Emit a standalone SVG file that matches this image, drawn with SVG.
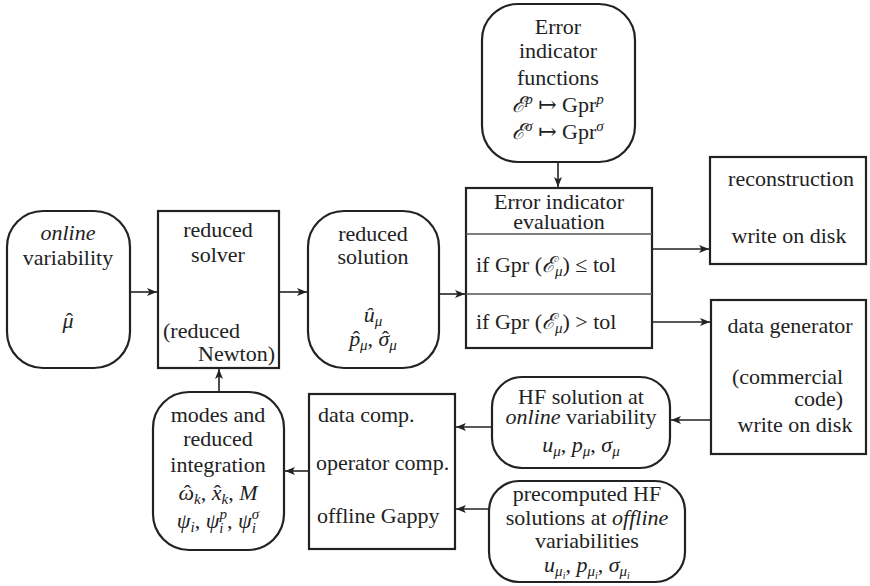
<svg xmlns="http://www.w3.org/2000/svg" width="870" height="586" viewBox="0 0 870 586" font-family="'Liberation Serif','Times New Roman','DejaVu Serif',serif">
<style>
text{font-family:"Liberation Serif","Times New Roman","DejaVu Serif",serif;font-size:22px;fill:#222}
.m{text-anchor:middle}
.e{text-anchor:end}
.i{font-style:italic}
.s{font-size:15px;font-style:italic}
.n{font-style:normal}
.box{fill:#fff;stroke:#222;stroke-width:2.2}
.div{stroke:#555;stroke-width:1.3}
.c{stroke:#222;stroke-width:1.6;fill:none;marker-end:url(#ah)}
</style>
<defs>
<marker id="ah" markerUnits="userSpaceOnUse" markerWidth="12" markerHeight="10" refX="10" refY="4" orient="auto">
<path d="M0,0 L10,4 L0,8 L2.5,4 Z" fill="#222"/>
</marker>
</defs>
<rect width="870" height="586" fill="#fff"/>

<g id="connectors">
<line class="c" x1="130" y1="292" x2="157" y2="292"/>
<line class="c" x1="279" y1="292" x2="307" y2="292"/>
<line class="c" x1="439" y1="294" x2="465" y2="294"/>
<line class="c" x1="558" y1="162" x2="558" y2="187"/>
<line class="c" x1="652" y1="249" x2="709" y2="249"/>
<line class="c" x1="652" y1="322" x2="710" y2="322"/>
<line class="c" x1="710" y1="420" x2="671" y2="420"/>
<line class="c" x1="492" y1="427" x2="456" y2="427"/>
<line class="c" x1="489" y1="509" x2="456" y2="509"/>
<line class="c" x1="309" y1="471" x2="285" y2="471"/>
<line class="c" x1="219" y1="392" x2="219" y2="369"/>
</g>

<g id="online">
<rect class="box" x="7" y="211" width="123" height="157" rx="36"/>
<text class="m i" x="68" y="240">online</text>
<text class="m" x="68" y="265">variability</text>
<text class="m i" x="68" y="328">μ<tspan class="n" dx="-7.7">ˆ</tspan></text>
</g>

<g id="solver">
<rect class="box" x="158" y="211" width="121" height="157"/>
<text class="m" x="218" y="237">reduced</text>
<text class="m" x="218" y="262">solver</text>
<text x="163" y="338">(reduced</text>
<text class="e" x="275" y="361">Newton)</text>
</g>

<g id="solution">
<rect class="box" x="308" y="211" width="131" height="157" rx="36"/>
<text class="m" x="373" y="241">reduced</text>
<text class="m" x="373" y="264">solution</text>
<text class="m i" x="373" y="322">û<tspan class="s" dy="4">μ</tspan></text>
<text class="m i" x="373" y="346">p<tspan class="n" dx="-7.7">ˆ</tspan><tspan class="s" dy="4">μ</tspan><tspan class="n" dy="-4">, </tspan>σ<tspan class="n" dx="-7.5">ˆ</tspan><tspan class="s" dy="4">μ</tspan></text>
</g>

<g id="errfun">
<rect class="box" x="482" y="4" width="153" height="158" rx="36"/>
<text class="m" x="558" y="34">Error</text>
<text class="m" x="558" y="58">indicator</text>
<text class="m" x="558" y="85">functions</text>
<text class="m" x="558" y="112"><tspan class="i">ℰ</tspan><tspan class="s" dy="-8">p</tspan><tspan dy="8"> ↦ Gpr</tspan><tspan class="s" dy="-8">p</tspan></text>
<text class="m" x="558" y="139"><tspan class="i">ℰ</tspan><tspan class="s" dy="-8">σ</tspan><tspan dy="8"> ↦ Gpr</tspan><tspan class="s" dy="-8">σ</tspan></text>
</g>

<g id="erreval">
<rect class="box" x="466" y="188" width="186" height="160"/>
<line class="div" x1="466" y1="234" x2="652" y2="234"/>
<line class="div" x1="466" y1="294" x2="652" y2="294"/>
<text class="m" x="559" y="209" font-size="20">Error indicator</text>
<text class="m" x="559" y="229" font-size="20">evaluation</text>
<text x="476" y="272">if Gpr (<tspan class="i">ℰ</tspan><tspan class="s" dy="4">μ</tspan><tspan dy="-4">) ≤ tol</tspan></text>
<text x="476" y="329">if Gpr (<tspan class="i">ℰ</tspan><tspan class="s" dy="4">μ</tspan><tspan dy="-4">) &gt; tol</tspan></text>
</g>

<g id="reconstruction">
<rect class="box" x="710" y="157" width="156" height="107" stroke-width="2.6"/>
<text class="m" x="791" y="186">reconstruction</text>
<text class="m" x="789" y="243">write on disk</text>
</g>

<g id="datagen">
<rect class="box" x="711" y="300" width="155" height="154" stroke-width="2.6"/>
<text class="m" x="790" y="333">data generator</text>
<text x="732" y="384">(commercial</text>
<text class="e" x="843" y="406">code)</text>
<text class="m" x="795" y="432">write on disk</text>
</g>

<g id="hfsol">
<rect class="box" x="492" y="377" width="178" height="91" rx="30"/>
<text class="m" x="581" y="404">HF solution at</text>
<text class="m" x="581" y="424"><tspan class="i">online</tspan> variability</text>
<text class="m i" x="581" y="452">u<tspan class="s" dy="4">μ</tspan><tspan dy="-4" class="n">, </tspan>p<tspan class="s" dy="4">μ</tspan><tspan dy="-4" class="n">, </tspan>σ<tspan class="s" dy="4">μ</tspan></text>
</g>

<g id="precomputed">
<rect class="box" x="489" y="481" width="196" height="101" rx="30"/>
<text class="m" x="587" y="501">precomputed HF</text>
<text class="m" x="587" y="525">solutions at <tspan class="i">offline</tspan></text>
<text class="m" x="587" y="548">variabilities</text>
<text class="m i" x="587" y="572">u<tspan class="s" dy="4">μ</tspan><tspan font-size="10" font-style="italic" dy="3">i</tspan><tspan dy="-7" class="n">, </tspan>p<tspan class="s" dy="4">μ</tspan><tspan font-size="10" font-style="italic" dy="3">i</tspan><tspan dy="-7" class="n">, </tspan>σ<tspan class="s" dy="4">μ</tspan><tspan font-size="10" font-style="italic" dy="3">i</tspan></text>
</g>

<g id="modes">
<rect class="box" x="153" y="392" width="131" height="158" rx="36"/>
<text class="m" x="218" y="422">modes and</text>
<text class="m" x="218" y="446">reduced</text>
<text class="m" x="218" y="472">integration</text>
<text class="m i" x="218" y="500">ω<tspan class="n" dx="-10.4">ˆ</tspan><tspan class="s" dx="3" dy="4">k</tspan><tspan dy="-4" class="n">, </tspan>x<tspan class="n" dx="-7.8">ˆ</tspan><tspan class="s" dx="0.5" dy="4">k</tspan><tspan dy="-4" class="n">, </tspan>M</text>
<text class="m i" x="218" y="528">ψ<tspan class="s" dy="4">i</tspan><tspan dy="-4" class="n">, </tspan>ψ<tspan class="s" dy="5">i</tspan><tspan class="s" dx="-4" dy="-14">p</tspan><tspan dy="9" class="n">, </tspan>ψ<tspan class="s" dy="5">i</tspan><tspan class="s" dx="-4" dy="-14">σ</tspan></text>
</g>

<g id="datacomp">
<rect class="box" x="309" y="394" width="146" height="155"/>
<text x="318" y="422">data comp.</text>
<text x="316" y="470">operator comp.</text>
<text x="317" y="523">offline Gappy</text>
</g>
</svg>
